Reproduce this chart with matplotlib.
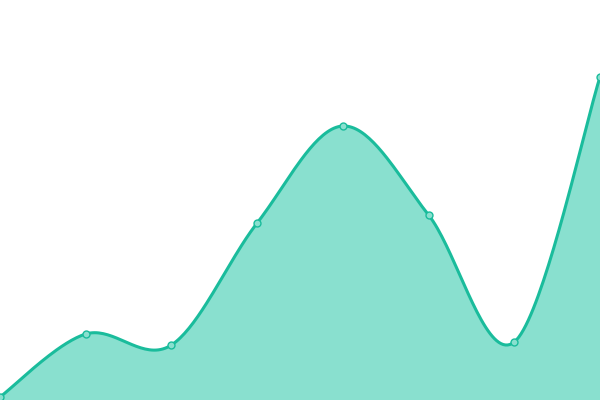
import numpy as np
import matplotlib
matplotlib.use("Agg")
import matplotlib.pyplot as plt

# ── Data ──────────────────────────────────────────────────────────
x_vals = [0, 1, 2, 3, 4, 5, 6, 7]
y_vals = [3, 66, 55, 177, 274, 185, 58, 323]

LINE = "#1abc9c"
FILL = "#89e0cf"


def catmull_rom(xs, ys, steps=40):
    """Smooth curve through the points (Catmull-Rom, ends duplicated)."""
    px = [xs[0]] + list(xs) + [xs[-1]]
    py = [ys[0]] + list(ys) + [ys[-1]]
    out_x, out_y = [], []
    t = np.linspace(0, 1, steps)
    for i in range(1, len(px) - 2):
        for p, out in ((px, out_x), (py, out_y)):
            p0, p1, p2, p3 = p[i - 1], p[i], p[i + 1], p[i + 2]
            seg = 0.5 * ((2 * p1) + (-p0 + p2) * t
                         + (2 * p0 - 5 * p1 + 4 * p2 - p3) * t ** 2
                         + (-p0 + 3 * p1 - 3 * p2 + p3) * t ** 3)
            out.extend(seg)
    return np.array(out_x), np.array(out_y)


fig = plt.figure(figsize=(6, 4), dpi=100)
ax = fig.add_axes([0, 0, 1, 1])

sx, sy = catmull_rom(x_vals, y_vals)
ax.fill_between(sx, sy, 0, color=FILL, linewidth=0)
ax.plot(sx, sy, color=LINE, linewidth=2.2, solid_capstyle="round")
ax.plot(x_vals, y_vals, "o", markersize=5, markerfacecolor=FILL,
        markeredgecolor=LINE, markeredgewidth=1.0, clip_on=False)

ax.set_xlim(0, 7)
ax.set_ylim(0, 400)
ax.axis("off")

fig.savefig("out.png", dpi=100)
